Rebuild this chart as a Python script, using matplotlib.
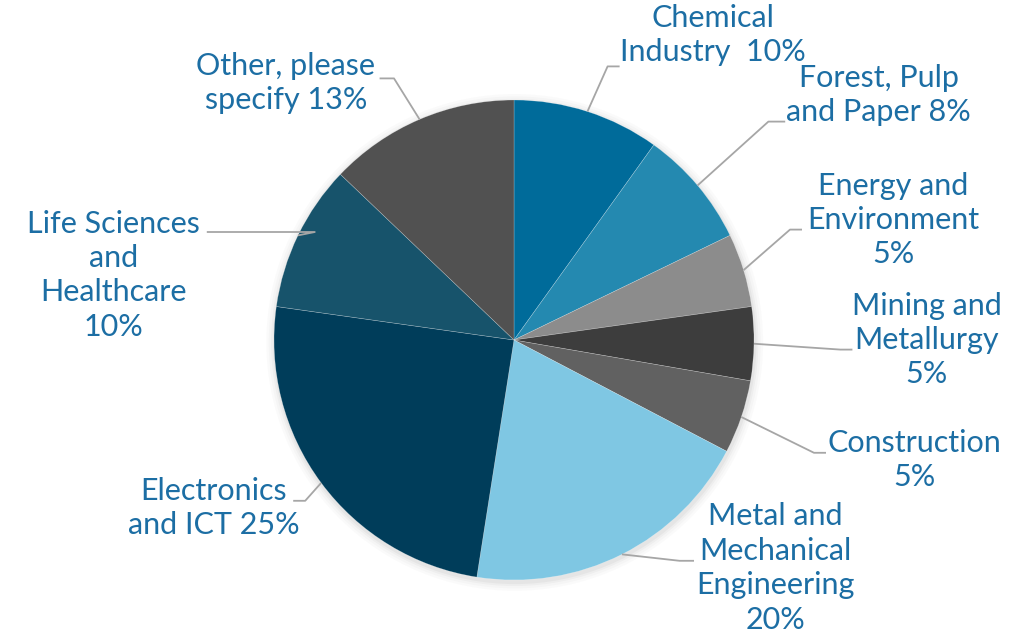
import numpy as np
import matplotlib.pyplot as plt

plt.rcParams['font.family'] = ['Lato', 'DejaVu Sans']

# 業種別の内訳 (%)
labels = [
    'Chemical\nIndustry  10%',
    'Forest, Pulp\nand Paper 8%',
    'Energy and\nEnvironment\n5%',
    'Mining and\nMetallurgy\n5%',
    'Construction\n5%',
    'Metal and\nMechanical\nEngineering\n20%',
    'Electronics\nand ICT 25%',
    'Life Sciences\nand\nHealthcare\n10%',
    'Other, please\nspecify 13%',
]
shares = [10, 8, 5, 5, 5, 20, 25, 10, 13]
colors = ['#006B9A', '#2489B0', '#8C8C8C', '#3D3D3D', '#616161',
          '#7FC7E3', '#003D5A', '#17536B', '#515151']

# ラベル配置 (テキスト中心, 引き出し線の折れ点, 終点) - 半径1の座標系
text_pos = [(0.83, 1.27), (1.52, 1.02), (1.58, 0.50), (1.72, 0.0),
            (1.67, -0.50), (1.09, -0.95), (-1.25, -0.70), (-1.67, 0.27),
            (-0.95, 1.07)]
elbow_pos = [(0.39, 1.14), (1.06, 0.91), (1.15, 0.46), (1.36, -0.04),
             (1.25, -0.47), (0.69, -0.92), (-0.87, -0.67), (-0.83, 0.45),
             (-0.50, 1.09)]
end_pos = [(0.44, 1.14), (1.13, 0.91), (1.20, 0.46), (1.41, -0.04),
           (1.30, -0.47), (0.75, -0.92), (-0.92, -0.67), (-1.28, 0.45),
           (-0.56, 1.09)]

fig = plt.figure(figsize=(10.25, 6.35), dpi=100)
ax = fig.add_axes([0, 0, 1, 1])

# 円の周りの薄い影
for r, a in [(1.035, 0.03), (1.025, 0.04), (1.015, 0.06), (1.007, 0.08)]:
    ax.add_patch(plt.Circle((0.003, -0.01), r, color='#7F7F7F', alpha=a, lw=0, zorder=0))

wedges, _ = ax.pie(shares, colors=colors, startangle=90, counterclock=False,
                   radius=1.0, normalize=True,
                   wedgeprops=dict(edgecolor='#FFFFFF', linewidth=0.4))
for w in wedges:
    w.set_edgecolor((1, 1, 1, 0.35))

# pie() が範囲を上書きするので後から設定
ax.set_xlim(-514 / 240, (1025 - 514) / 240)
ax.set_ylim(-(635 - 340) / 240, 340 / 240)
ax.set_aspect('equal')
ax.axis('off')

for w, lab, tp, ep, en in zip(wedges, labels, text_pos, elbow_pos, end_pos):
    mid = np.deg2rad((w.theta1 + w.theta2) / 2)
    sx, sy = np.cos(mid), np.sin(mid)
    ax.plot([sx, ep[0], en[0]], [sy, ep[1], en[1]], color='#A6A6A6', lw=1.3,
            zorder=3, solid_capstyle='butt')
    ax.text(tp[0], tp[1], lab, ha='center', va='center', multialignment='center',
            fontsize=22, color='#1C6EA4', linespacing=1.28, zorder=4)

fig.savefig('out.png', dpi=100, facecolor='white')
